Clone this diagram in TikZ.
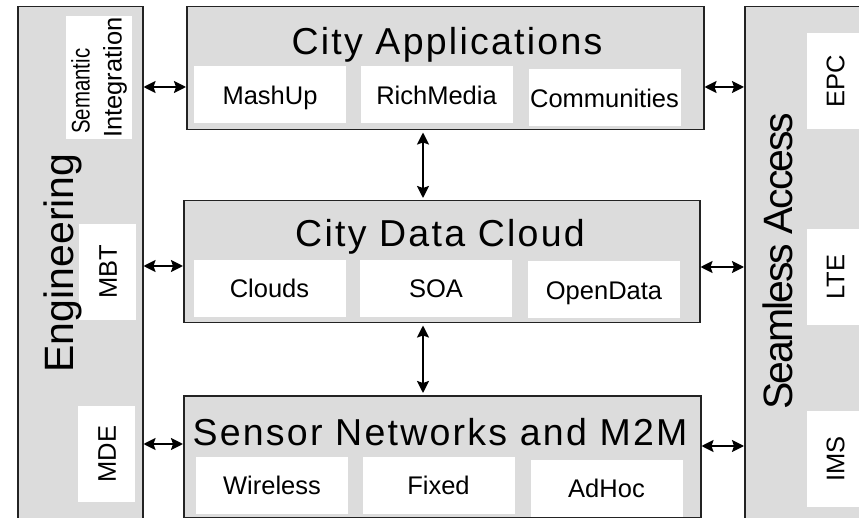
\documentclass[tikz,border=0pt]{standalone}
\usepackage{fontspec}
\setmainfont{Liberation Sans}
\usepackage{tikz}
\usetikzlibrary{arrows.meta}
\definecolor{boxgray}{RGB}{220,220,220}
\definecolor{linegray}{RGB}{35,35,35}
\tikzstyle{panel}=[draw=linegray,fill=boxgray,line width=1.5pt,anchor=north west,inner sep=0pt,minimum height=540pt]
\tikzstyle{layer}=[draw=linegray,fill=boxgray,line width=1.5pt,anchor=north west,inner sep=0pt,minimum width=516pt,minimum height=122pt]
\tikzstyle{item}=[fill=white,inner sep=0pt,minimum width=152pt,minimum height=57pt,text height=18.5pt,text depth=0pt,font=\fontsize{25.5}{30}\selectfont]
\tikzstyle{sideitem}=[item,minimum width=96pt,rotate=90]
\tikzstyle{title}=[anchor=base,font=\fontsize{37.5}{40}\selectfont\addfontfeature{LetterSpace=6}]
\tikzstyle{sidetitle}=[anchor=base,rotate=90,font=\fontsize{41}{44}\selectfont]
\tikzstyle{link}=[draw,line width=2pt,{Stealth[length=12pt,width=12pt,inset=2pt]}-{Stealth[length=12pt,width=12pt,inset=2pt]}]

\begin{document}
\begin{tikzpicture}[x=1pt,y=-1pt]

    \useasboundingbox (0,0) rectangle (859,518);
    \clip (0,0) rectangle (859,518);

    % side panels
    \node[panel,minimum width=125pt] (eng) at (17,6) {};
    \node[panel,minimum width=130pt] (acc) at (744,6) {};

    % the three layers
    \node[layer,minimum width=517pt,minimum height=123pt] (apps) at (186,6) {};
    \node[layer] (cloud) at (183,200) {};
    \node[layer,minimum width=517pt] (sensor) at (183,395) {};

    \node[title] (appsT) at (447,55) {City Applications};
    \node[title] (cloudT) at (440,247) {City Data Cloud};
    \node[title] (sensorT) at (440,445) {Sensor Networks and M2M};

    \foreach \x/\y/\name/\txt in {270/95/mashup/MashUp, 436.5/95/richmedia/RichMedia, 604.5/98/communities/Communities,
                                  269.5/288.5/clouds/Clouds, 436/288.5/soa/SOA, 604/290/opendata/OpenData,
                                  272/485/wireless/Wireless, 438.5/485/fixed/Fixed, 606.5/488.5/adhoc/AdHoc}
        \node[item] (\name) at (\x,\y) {\txt};

    % side panel contents
    \node[fill=white,rotate=90,inner sep=0pt,minimum width=123pt,minimum height=66pt,align=left,
          font=\fontsize{25.5}{32}\selectfont] (semint) at (99,77.5) {\hspace*{4pt}\scalebox{0.8}[1]{Semantic}\\Integration};

    \foreach \x/\y/\name/\txt in {107.5/272/mbt/MBT, 106.5/454/mde/MDE, 835/81/epc/EPC, 835/277/lte/LTE, 835/459/ims/IMS}
        \node[sideitem] (\name) at (\x,\y) {\txt};

    \node[sidetitle] (engT) at (73,263) {Engineering};
    \node[sidetitle,font=\fontsize{41}{44}\selectfont\addfontfeature{LetterSpace=-5}] (accT) at (792,261) {Seamless Access};

    % connections
    \foreach \source/\dest/\y in {eng/apps/87, eng/cloud/266, eng/sensor/444}
        \path[link] (\source.east |- 0,\y) -- (\dest.west |- 0,\y);

    \foreach \source/\dest/\y in {apps/acc/87, cloud/acc/267, sensor/acc/446}
        \path[link] (\source.east |- 0,\y) -- (\dest.west |- 0,\y);

    \foreach \source/\dest in {apps/cloud, cloud/sensor}
        \path[link,shorten <=2pt,shorten >=2pt] (\source.south -| 423,0) -- (\dest.north -| 423,0);

\end{tikzpicture}
\end{document}
